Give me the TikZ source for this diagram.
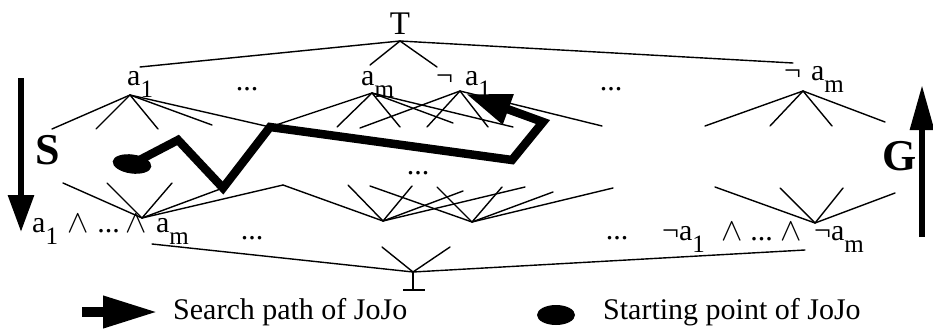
\documentclass[tikz,border=0pt]{standalone}
\usepackage{fontspec}
\setmainfont{Liberation Serif}
\usetikzlibrary{arrows.meta,shapes.geometric}
\newcommand\sbs[1]{\raisebox{-0.4em}{\fontsize{25}{25}\selectfont #1}}
\newcommand\andsym{\scalebox{3.2}{\fontsize{10}{12}\selectfont$\wedge$}}
\begin{document}
\begin{tikzpicture}[x=1pt,y=-1pt,
  lat/.style={line width=1.4pt, line cap=round},
  search/.style={line width=8.5pt, line join=miter},
  lbl/.style={inner sep=0pt, font=\fontsize{30}{36}\selectfont},
  big/.style={inner sep=0pt, font=\fontsize{44}{48}\selectfont\bfseries},
  blobst/.style={ellipse, fill=black, inner sep=0pt},
]
\useasboundingbox (0,0) rectangle (933,329);

% ---------- labels ----------
\node[lbl, anchor=base] (T) at (400,35) {\fontsize{33}{36}\selectfont T};
\node[lbl, anchor=base west] (la1) at (127,85) {a\sbs{1}};
\node[lbl, anchor=base west] (lam) at (361,85) {a\sbs{m}};
\node[lbl, anchor=base west] (lna1) at (436,85) {¬\hspace{12pt}a\sbs{1}};
\node[lbl, anchor=base west] (lnam) at (784,80) {¬\hspace{10pt}a\sbs{m}};
\node[lbl, anchor=base] (d1) at (247,90) {...};
\node[lbl, anchor=base] (d2) at (611,90) {...};
\node[lbl, anchor=base] (d3) at (418,174) {...};
\node[lbl, anchor=base] (d4) at (252,239) {...};
\node[lbl, anchor=base] (d5) at (617,239) {...};
\node[lbl, anchor=base west] (lbot1) at (32,232)
  {a\sbs{1}\hspace{9pt}\andsym\hspace{9pt}...\hspace{6pt}\andsym\hspace{9pt}a\sbs{m}};
\node[lbl, anchor=base west] (lbot2) at (662,240)
  {¬a\sbs{1}\hspace{17pt}\andsym\hspace{7pt}...\hspace{8pt}\andsym\hspace{12pt}¬a\sbs{m}};
\node[big] (S) at (48,150) {S};
\node[big] (G) at (900,156) {G};

% ---------- top element ----------
\coordinate (vT) at (400,41);
\foreach \n/\x/\y in {L/140/67, R/793/63, Am/370/65, Na/437/67}
  {\coordinate (t\n) at (\x,\y); \draw[lat] (vT) -- (t\n);}

% ---------- level 1 ----------
\coordinate (v1) at (130,95);
\coordinate (vm) at (372,93);
\coordinate (vn1) at (460,91);
\coordinate (vnm) at (803,91);
\coordinate (n12) at (270,127);
\draw[lat] (v1) -- (n12);
\draw[lat] (vm) -- (n12);
\foreach \i/\x/\y in {1/52/129, 2/96/129, 3/158/129, 4/212/125}
  {\coordinate (v1e\i) at (\x,\y); \draw[lat] (v1) -- (v1e\i);}
\foreach \i/\x/\y in {1/337/127, 2/400/127, 3/453/123, 4/513/127}
  {\coordinate (vme\i) at (\x,\y); \draw[lat] (vm) -- (vme\i);}
\foreach \i/\x/\y in {1/360/128, 2/427/127, 3/488/127, 4/602/126}
  {\coordinate (vn1e\i) at (\x,\y); \draw[lat] (vn1) -- (vn1e\i);}
\foreach \i/\x/\y in {1/705/126, 2/770/126, 3/832/126, 4/885/122}
  {\coordinate (vnme\i) at (\x,\y); \draw[lat] (vnm) -- (vnme\i);}

% ---------- level m ----------
\coordinate (vb1) at (142,218);
\coordinate (vA) at (383,221);
\coordinate (vB) at (472,222);
\coordinate (vnb) at (815,223);
\coordinate (p2) at (223,188);
\coordinate (nb12) at (283,185);
\draw[lat] (vb1) -- (p2);
\draw[lat] (vb1) -- (nb12);
\draw[lat] (vA) -- (nb12);
\foreach \i/\x/\y in {1/63/183, 2/107/183, 3/172/183}
  {\coordinate (vb1e\i) at (\x,\y); \draw[lat] (vb1) -- (vb1e\i);}
\foreach \i/\x/\y in {1/348/185, 2/412/186, 3/463/191, 4/525/187}
  {\coordinate (vAe\i) at (\x,\y); \draw[lat] (vA) -- (vAe\i);}
\foreach \i/\x/\y in {1/370/186, 2/437/187, 3/502/187, 4/553/192, 5/613/188}
  {\coordinate (vBe\i) at (\x,\y); \draw[lat] (vB) -- (vBe\i);}
\foreach \i/\x/\y in {1/715/187, 2/780/188, 3/843/188, 4/895/193}
  {\coordinate (vnbe\i) at (\x,\y); \draw[lat] (vnb) -- (vnbe\i);}

% ---------- bottom element ----------
\coordinate (vbot) at (413,272);
\foreach \i/\x/\y in {1/152/244, 2/805/250, 3/382/247, 4/450/247}
  {\coordinate (vbote\i) at (\x,\y); \draw[lat] (vbot) -- (vbote\i);}
\coordinate (stem) at (413,290);
\coordinate (barL) at (403,290);
\coordinate (barR) at (425,290);
\draw[lat] (vbot) -- (stem);
\draw[line width=2.6pt] (barL) -- (barR);

% ---------- search path ----------
\node[blobst, minimum width=39pt, minimum height=19pt, rotate=-8] (blob) at (132,164) {};
\coordinate (p1) at (178,140);
\coordinate (p4) at (512,160);
\coordinate (p5) at (543,122);
\coordinate (p6) at (466,94);
\draw[search, -{Triangle[length=45pt,width=30pt]}]
  (blob.center) -- (p1) -- (p2) -- (n12) -- (p4) -- (p5) -- (p6);

% ---------- S and G arrows ----------
\coordinate (sTop) at (21,78);
\coordinate (sBot) at (21,232);
\draw[line width=6pt, -{Triangle[length=37pt,width=25pt]}] (sTop) -- (sBot);
\coordinate (gBot) at (922,237);
\coordinate (gTop) at (922,85);
\draw[line width=6pt, -{Triangle[length=45pt,width=23pt]}] (gBot) -- (gTop);

% ---------- legend ----------
\coordinate (lgA) at (82,312);
\coordinate (lgB) at (158,312);
\draw[line width=10pt, -{Triangle[length=55pt,width=30pt]}] (lgA) -- (lgB);
\node[lbl, anchor=base west] (lg1) at (173,319) {Search path of JoJo};
\node[blobst, minimum width=38pt, minimum height=20pt] (start) at (556,315) {};
\node[lbl, anchor=base west] (lg2) at (603,319) {Starting point of JoJo};
\end{tikzpicture}
\end{document}
